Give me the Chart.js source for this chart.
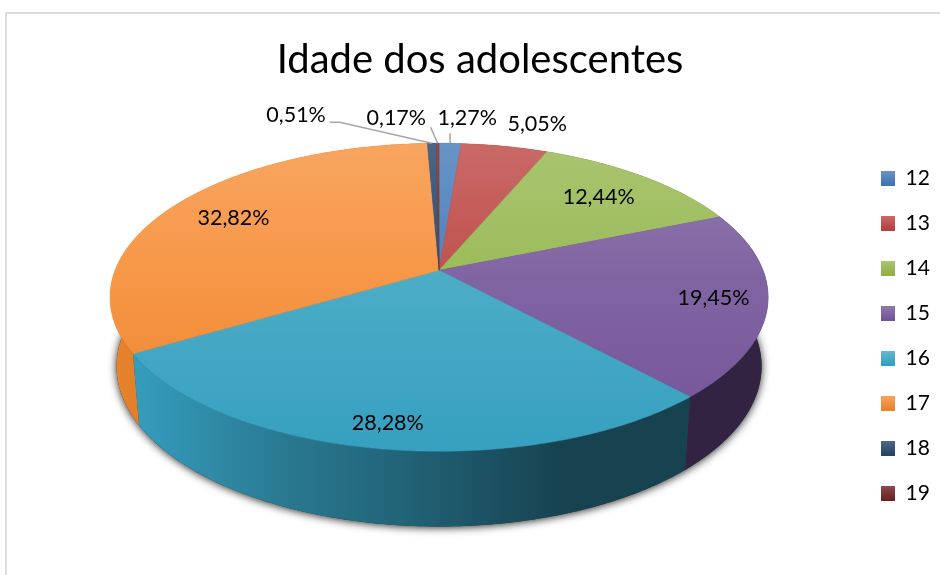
<!DOCTYPE html>
<html>
<head>
<meta charset="utf-8">
<title>Idade dos adolescentes</title>
<script src="https://cdn.jsdelivr.net/npm/chart.js@4/dist/chart.umd.min.js"></script>
<style>
    html, body { margin: 0; padding: 0; background: #fff; overflow: hidden; }
    #frame { position: absolute; left: 5px; top: 12px; width: 1000px; height: 700px; border: 2px solid #dcdcdc; }
    #chart { position: absolute; left: 0; top: 0; }
</style>
</head>
<body>
<div id="frame"></div>
<canvas id="chart" width="940" height="575"></canvas>
<script>
const chartTitle = 'Idade dos adolescentes';
const ages = ['12', '13', '14', '15', '16', '17', '18', '19'];
const percentages = [1.27, 5.05, 12.44, 19.45, 28.28, 32.82, 0.51, 0.17];
const sliceColors = ['#4f81bd', '#c0504d', '#9bbb59', '#8064a2', '#4bacc6', '#f79646', '#2c4d75', '#772c2a'];
const lowerColors = ['#3f76b8', '#b8413e', '#90b248', '#74539a', '#36a0c0', '#e8842c', '#264468', '#6a2422'];

// where each percentage label sits: radius on the disc, then a pixel nudge
const labelRadius = [1.24, 1.235, 0.76, 0.84, 0.875, 0.78, 1.27, 1.24];
const labelNudge = [[15, 0], [20, 2], [0, 0], [0, 0], [-2, 0], [3, 0], [-134, 0], [-41, 0]];
// leader lines, as offsets from the slice's point on the rim
const leaders = { 0: [[0, -10]], 6: [[-92, -21], [-102, -21]], 7: [[-7, -16]] };

// tilted disc seen in perspective
const RADIUS = 200;
const view = {
    shiftX: 0.5, shiftY: -59.2,
    halfWidth: 1.62, halfHeight: 0.7465, perspective: 0.175,
    depth: 68, depthScaleX: 0.98, depthScaleY: 1.04
};
const LEGEND_TOP = 144;
const LEGEND_PITCH = 45;

function shade(hex, f) {
    const n = parseInt(hex.slice(1), 16);
    const c = [n >> 16, (n >> 8) & 255, n & 255].map(v => Math.round(Math.min(255, v * f)));
    return `rgb(${c[0]},${c[1]},${c[2]})`;
}

function tint(hex, t) {
    const n = parseInt(hex.slice(1), 16);
    const c = [n >> 16, (n >> 8) & 255, n & 255].map(v => Math.round(v + (255 - v) * t));
    return `rgb(${c[0]},${c[1]},${c[2]})`;
}

// theta is measured clockwise from the top of the pie, r = 1 is the rim
function project(arc, theta, r) {
    const u = Math.sin(theta) * r;
    const v = -Math.cos(theta) * r;
    const w = 1 - view.perspective * v;
    return {
        x: arc.x + view.shiftX + RADIUS * view.halfWidth * u / w,
        y: arc.y + view.shiftY + RADIUS * view.halfHeight * v / w
    };
}

function lower(arc, p) {
    const cx = arc.x + view.shiftX;
    const cy = arc.y + view.shiftY;
    return {
        x: cx + (p.x - cx) * view.depthScaleX,
        y: cy + view.depth + (p.y - cy) * view.depthScaleY
    };
}

function rimPoints(arc, from, to) {
    const steps = Math.max(2, Math.ceil((to - from) / 0.01));
    const pts = [];
    for (let i = 0; i <= steps; i++) {
        pts.push(project(arc, from + (to - from) * i / steps, 1));
    }
    return pts;
}

function tracePath(ctx, pts) {
    ctx.beginPath();
    pts.forEach((p, i) => i ? ctx.lineTo(p.x, p.y) : ctx.moveTo(p.x, p.y));
    ctx.closePath();
}

const pie3d = {
    id: 'pie3d',
    afterLayout(chart) {
        chart.legend.left = 857;
        chart.legend.right = 940;
        chart.legend.top = LEGEND_TOP;
    },
    beforeDatasetsDraw(chart) {
        const ctx = chart.ctx;
        const arcs = chart.getDatasetMeta(0).data;
        const first = arcs[0];

        // bottom disc, only there to throw the soft shadow
        const all = rimPoints(first, 0, Math.PI * 2).map(p => lower(first, p));
        ctx.save();
        ctx.shadowColor = 'rgba(0,0,0,0.85)';
        ctx.shadowBlur = 9;
        ctx.shadowOffsetY = 1;
        ctx.fillStyle = '#333';
        tracePath(ctx, all);
        ctx.fill();
        ctx.restore();

        const left = first.x + view.shiftX - RADIUS * view.halfWidth * 1.016;
        const right = first.x + view.shiftX + RADIUS * view.halfWidth * 1.016;
        const top = project(first, 0, 1).y;
        const bottom = project(first, Math.PI, 1).y;

        // side walls, the back ones end up hidden under the top face
        arcs.forEach((arc, i) => {
            const from = arc.startAngle + Math.PI / 2;
            const to = arc.endAngle + Math.PI / 2;
            const rim = rimPoints(arc, from, to);
            const wall = rim.concat(rim.map(p => lower(arc, p)).reverse());
            const g = ctx.createLinearGradient(left, 0, right, 0);
            g.addColorStop(0, shade(lowerColors[i], 1));
            g.addColorStop(0.05, shade(lowerColors[i], 0.97));
            g.addColorStop(0.26, shade(lowerColors[i], 0.76));
            g.addColorStop(0.43, shade(lowerColors[i], 0.63));
            g.addColorStop(0.68, shade(lowerColors[i], 0.42));
            g.addColorStop(1, shade(lowerColors[i], 0.42));
            ctx.fillStyle = g;
            tracePath(ctx, wall);
            ctx.fill();
        });

        // top faces
        arcs.forEach((arc, i) => {
            const from = arc.startAngle + Math.PI / 2;
            const to = arc.endAngle + Math.PI / 2;
            const wedge = [project(arc, 0, 0)].concat(rimPoints(arc, from, to));
            const g = ctx.createLinearGradient(0, top, 0, bottom);
            g.addColorStop(0, tint(sliceColors[i], 0.14));
            g.addColorStop(0.45, sliceColors[i]);
            g.addColorStop(1, lowerColors[i]);
            ctx.fillStyle = g;
            ctx.strokeStyle = g;
            ctx.lineWidth = 0.5;
            tracePath(ctx, wedge);
            ctx.fill();
            ctx.stroke();
        });
        return false; // the projected slices replace the flat circle
    },
    afterDraw(chart) {
        const ctx = chart.ctx;
        const arcs = chart.getDatasetMeta(0).data;
        ctx.save();
        arcs.forEach((arc, i) => {
            const mid = (arc.startAngle + arc.endAngle) / 2 + Math.PI / 2;
            if (leaders[i]) {
                const rim = project(arc, mid, 1);
                ctx.strokeStyle = '#a6a6a6';
                ctx.lineWidth = 1.5;
                ctx.beginPath();
                ctx.moveTo(rim.x, rim.y);
                leaders[i].forEach(o => ctx.lineTo(rim.x + o[0], rim.y + o[1]));
                ctx.stroke();
            }
            const p = project(arc, mid, labelRadius[i]);
            ctx.fillStyle = '#000';
            ctx.font = '21.5px Lato';
            ctx.textAlign = 'center';
            ctx.textBaseline = 'middle';
            ctx.fillText(percentages[i].toFixed(2).replace('.', ',') + '%',
                p.x + labelNudge[i][0], p.y + labelNudge[i][1]);
        });
        ctx.restore();
    }
};

document.addEventListener('DOMContentLoaded', function () {
    new Chart(document.getElementById('chart').getContext('2d'), {
        type: 'pie',
        data: {
            labels: ages,
            datasets: [{
                data: percentages,
                backgroundColor: sliceColors,
                borderWidth: 0,
                radius: RADIUS
            }]
        },
        options: {
            responsive: false,
            animation: false,
            layout: { padding: { left: 20 } },
            plugins: {
                title: {
                    display: true,
                    text: chartTitle,
                    color: '#000',
                    font: { family: 'Lato', size: 40, weight: 'normal' },
                    padding: { top: 36, bottom: 0 }
                },
                legend: {
                    position: 'right',
                    align: 'start',
                    labels: {
                        color: '#000',
                        font: { family: 'Lato', size: 21 },
                        boxWidth: 14,
                        boxHeight: 15,
                        padding: LEGEND_PITCH - 21,
                        generateLabels(chart) {
                            // legend swatches carry the same soft top-to-bottom shading
                            const items = Chart.overrides.pie.plugins.legend.labels.generateLabels(chart);
                            items.forEach((item, i) => {
                                const y = LEGEND_TOP + LEGEND_PITCH - 21 + i * LEGEND_PITCH;
                                const g = chart.ctx.createLinearGradient(0, y, 0, y + 16);
                                g.addColorStop(0, tint(sliceColors[i], 0.2));
                                g.addColorStop(1, lowerColors[i]);
                                item.fillStyle = g;
                                item.lineWidth = 0;
                            });
                            return items;
                        }
                    }
                },
                tooltip: { enabled: false }
            }
        },
        plugins: [pie3d]
    });
});
</script>
</body>
</html>
